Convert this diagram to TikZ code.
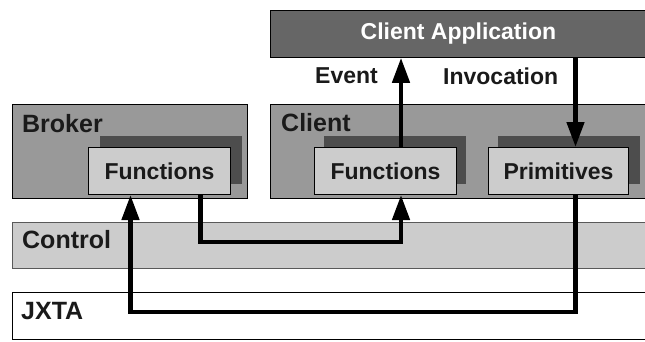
\documentclass[tikz,border=0pt]{standalone}
\usepackage{fontspec}
\setmainfont{Liberation Sans}
\usetikzlibrary{arrows.meta}

\definecolor{appfill}{HTML}{666666}
\definecolor{layerfill}{HTML}{999999}
\definecolor{shadowfill}{HTML}{4D4D4D}
\definecolor{boxfill}{HTML}{CCCCCC}
\definecolor{inkgray}{HTML}{1A1A1A}

\tikzset{layer/.style = {draw, anchor = north west, inner sep = 0pt,
                         minimum width = #1, line width = 0.8pt},
         shadowbox/.style = {fill = shadowfill, anchor = north west, inner sep = 0pt,
                             minimum width = 142pt, minimum height = 48pt},
         funbox/.style = {draw, fill = boxfill, anchor = north west, inner sep = 0pt,
                          minimum width = 142pt, minimum height = 47pt, line width = 1pt,
                          font = \fontsize{23}{26}\selectfont\bfseries, text = inkgray},
         layername/.style = {anchor = west, inner sep = 0pt, text = inkgray,
                             font = \fontsize{25}{28}\selectfont\bfseries},
         flowname/.style = {anchor = west, inner sep = 0pt, text = inkgray,
                            font = \fontsize{23}{26}\selectfont\bfseries},
         flow/.style = {line width = 4.5pt, -{Triangle[length = 25pt, width = 17pt]}}
        }

\begin{document}
\begin{tikzpicture}[x = 1pt, y = -1pt]
  \useasboundingbox (0, 0) rectangle (645, 341);
  \clip (0, 0) rectangle (645, 341);

  % layers
  \node[layer = 376pt, fill = appfill, minimum height = 47pt, text = white,
        font = \fontsize{23}{26}\selectfont\bfseries] (app) at (270, 10) {Client Application};
  \node[layer = 235pt, fill = layerfill, minimum height = 94pt] (broker) at (12, 104) {};
  \node[layer = 380pt, fill = layerfill, minimum height = 94pt] (client) at (270, 104) {};
  \node[layer = 640pt, fill = boxfill, draw = black!65, minimum height = 46pt] (control) at (12, 222) {};
  \node[layer = 640pt, fill = white, minimum height = 47pt] (jxta) at (12, 292) {};

  % components with their shadows
  \node[shadowbox] (bshadow) at (100, 136) {};
  \node[shadowbox] (cshadow) at (324, 136) {};
  \node[shadowbox] (pshadow) at (498, 136) {};
  \node[funbox] (bfun) at (88, 147) {Functions};
  \node[funbox] (cfun) at (314, 147) {Functions};
  \node[funbox, minimum width = 140pt] (prim) at (488, 147) {Primitives};

  % names
  \node[layername] (brokername) at (22, 124) {Broker};
  \node[layername] (clientname) at (281, 123) {Client};
  \node[layername] (controlname) at (22, 240) {Control};
  \node[layername] (jxtaname) at (21, 311) {JXTA};
  \node[flowname] (eventname) at (315, 76) {Event};
  \node[flowname] (invname) at (443, 76) {Invocation};

  % calls and events
  \draw[flow] ([xshift = 15.5pt]cfun.north) -- ([xshift = 15.5pt]cfun.north |- app.south);
  \draw[flow] ([xshift = 17pt]prim.north |- app.south) -- ([xshift = 17pt]prim.north);
  \draw[flow] ([xshift = 41pt]bfun.south) -- ++(0, 47) -| ([xshift = 15.5pt]cfun.south);
  \draw[flow] ([xshift = 17pt]prim.south) -- ++(0, 117) -| ([xshift = -29pt]bfun.south);
\end{tikzpicture}
\end{document}
